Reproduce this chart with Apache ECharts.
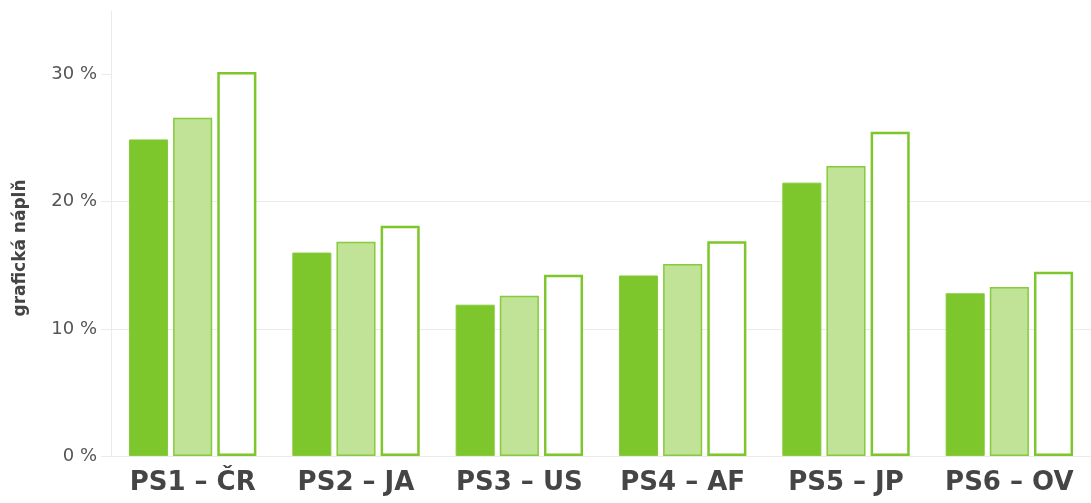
<!DOCTYPE html>
<html>
  <head>
    <meta charset="utf-8" />
    <title>grafická náplň</title>
    <script src="https://cdn.jsdelivr.net/npm/echarts@6/dist/echarts.min.js"></script>
    <style>
      * {
        margin: 0;
        padding: 0;
        box-sizing: border-box;
      }
    </style>
  </head>
  <body>
    <div id="main" style="width: 1091px; height: 503px"></div>
    <script type="text/javascript">
      var myChart = echarts.init(document.getElementById("main"));

      const categories = ["PS1 – ČR", "PS2 – JA", "PS3 – US", "PS4 – AF", "PS5 – JP", "PS6 – OV"];
      const seriesA = [24.9, 16.0, 11.9, 14.2, 21.5, 12.8];
      const seriesB = [26.6, 16.85, 12.6, 15.1, 22.8, 13.3];
      const seriesC = [30.2, 18.1, 14.25, 16.9, 25.5, 14.5];
      const yTicks = [0, 10, 20, 30];

      const green = "#7dc62b";
      const gridColor = "#ebebeb";

      var option = {
        animation: false,
        grid: { left: 111, right: 0, top: 11, bottom: 47 },
        graphic: [
          {
            type: "text",
            x: 21,
            y: 248,
            rotation: Math.PI / 2,
            style: {
              text: "grafická náplň",
              font: "bold 17px 'DejaVu Sans'",
              fill: "#444",
              align: "center",
              verticalAlign: "middle",
            },
          },
        ],
        xAxis: {
          type: "category",
          data: categories,
          axisLine: { lineStyle: { color: gridColor } },
          axisTick: { alignWithLabel: true, interval: 0, length: 8, lineStyle: { color: gridColor } },
          axisLabel: {
            interval: 0,
            hideOverlap: false,
            margin: 14,
            color: "#454545",
            fontFamily: "DejaVu Sans",
            fontWeight: "bold",
            fontSize: 26,
          },
        },
        yAxis: {
          type: "value",
          min: 0,
          max: 35,
          interval: 10,
          axisLine: { show: true, lineStyle: { color: gridColor } },
          axisTick: { show: true, length: 10, customValues: yTicks, lineStyle: { color: gridColor } },
          splitLine: { showMaxLine: false, lineStyle: { color: gridColor } },
          axisLabel: {
            customValues: yTicks,
            margin: 14,
            color: "#555",
            fontFamily: "DejaVu Sans",
            fontSize: 18,
            formatter: (v) => v + " %",
          },
        },
        series: [
          {
            type: "bar",
            data: seriesA,
            barGap: "13%",
            barCategoryGap: "22%",
            itemStyle: { color: green, borderColor: "#86cb3b", borderWidth: 1 },
          },
          {
            type: "bar",
            data: seriesB,
            itemStyle: { color: "#c0e397", borderColor: "#86cb3b", borderWidth: 1.5 },
          },
          {
            type: "bar",
            data: seriesC,
            itemStyle: { color: "#ffffff", borderColor: green, borderWidth: 2.5 },
          },
        ],
      };

      myChart.setOption(option);
    </script>
  </body>
</html>
